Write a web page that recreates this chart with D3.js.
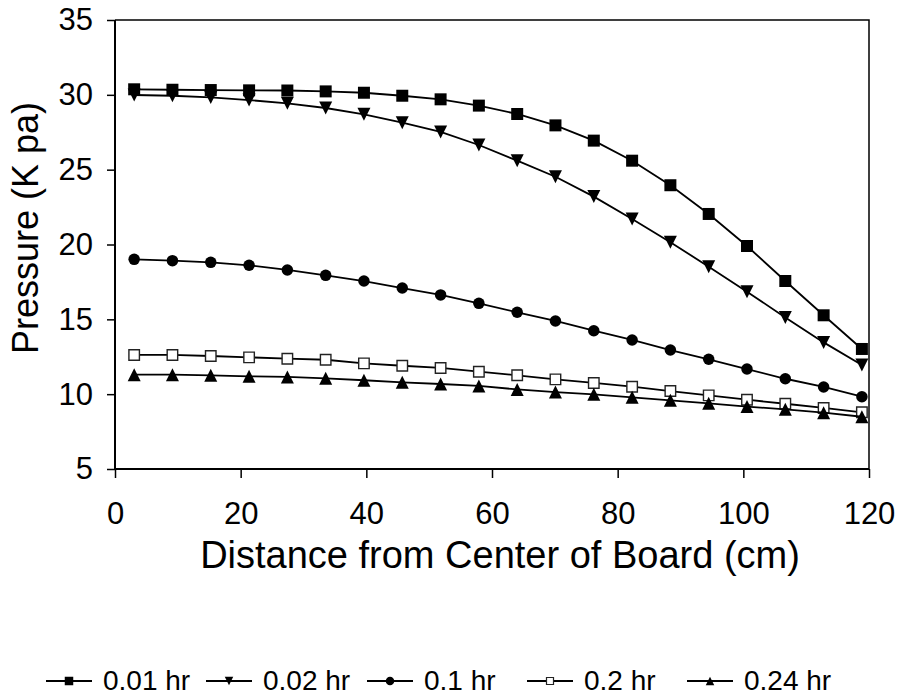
<!DOCTYPE html>
<html>
<head>
<meta charset="utf-8">
<script src="https://cdn.jsdelivr.net/npm/d3@7"></script>
<style>
  html, body { margin: 0; padding: 0; background: #fff; }
  svg { display: block; }
  text { font-family: Arial, "Liberation Sans", sans-serif; fill: #000; }
</style>
</head>
<body>
<svg id="chart" width="898" height="698"></svg>
<script>
// ---- data ----
const distances = [3.05, 9.14, 15.24, 21.34, 27.43, 33.53, 39.62, 45.72, 51.82, 57.91,
                   64.01, 70.10, 76.20, 82.30, 88.39, 94.49, 100.58, 106.68, 112.78, 118.87];
const p001 = [30.37, 30.34, 30.32, 30.30, 30.29, 30.23, 30.14, 29.94, 29.70, 29.28,
              28.72, 27.96, 26.94, 25.60, 23.96, 22.04, 19.90, 17.56, 15.27, 13.02];
const p002 = [29.99, 29.94, 29.83, 29.65, 29.43, 29.12, 28.70, 28.14, 27.52, 26.65,
              25.60, 24.53, 23.20, 21.70, 20.15, 18.52, 16.85, 15.13, 13.46, 11.95];
const p01  = [19.01, 18.92, 18.81, 18.61, 18.30, 17.94, 17.56, 17.09, 16.63, 16.07,
              15.47, 14.89, 14.24, 13.62, 12.95, 12.33, 11.68, 11.03, 10.48, 9.83];
const p02  = [12.62, 12.62, 12.55, 12.46, 12.37, 12.30, 12.06, 11.90, 11.75, 11.50,
              11.26, 10.99, 10.75, 10.50, 10.21, 9.92, 9.63, 9.36, 9.08, 8.79];
const p024 = [11.30, 11.30, 11.26, 11.19, 11.15, 11.06, 10.93, 10.79, 10.68, 10.55,
              10.32, 10.14, 9.99, 9.79, 9.59, 9.39, 9.17, 8.99, 8.76, 8.49];
const seriesNames = ["0.01 hr", "0.02 hr", "0.1 hr", "0.2 hr", "0.24 hr"];
const seriesMarkers = ["square", "triangleDown", "circle", "openSquare", "triangleUp"];
const xTicks = [0, 20, 40, 60, 80, 100, 120];
const yTicks = [5, 10, 15, 20, 25, 30, 35];
const xLabel = "Distance from Center of Board (cm)";
const yLabel = "Pressure (K pa)";

const seriesValues = [p001, p002, p01, p02, p024];

// ---- layout ----
const svg = d3.select("#chart");
const L = 115, R = 869, T = 20, B = 469;
const x = d3.scaleLinear().domain([0, 120]).range([L, R]);
const y = d3.scaleLinear().domain([5, 35]).range([B, T]);

function markerPath(type, s) {
  const h = s / 2;
  switch (type) {
    case "square":
    case "openSquare":
      return `M${-h},${-h}H${h}V${h}H${-h}Z`;
    case "triangleDown":
      return `M${-h},${-h}H${h}L0,${h}Z`;
    case "triangleUp":
      return `M${-h},${h}H${h}L0,${-h}Z`;
    case "circle":
      return `M${h},0A${h},${h} 0 1,1 ${-h},0A${h},${h} 0 1,1 ${h},0Z`;
  }
}
function markerSize(type) {
  if (type === "openSquare") return 10.5;
  if (type === "circle") return 11.5;
  if (type === "triangleUp" || type === "triangleDown") return 13;
  return 12;
}

// frame (top and right)
svg.append("path")
  .attr("d", `M${L},${T}H${R}V${B}`)
  .attr("fill", "none").attr("stroke", "#000").attr("stroke-width", 1.5);

// axes
const yAxis = d3.axisLeft(y).tickValues(yTicks).tickSize(8).tickPadding(14).tickFormat(d3.format("d"));
const gy = svg.append("g").attr("transform", `translate(${L},0)`).call(yAxis);
const xAxis = d3.axisBottom(x).tickValues(xTicks).tickSize(9).tickPadding(24).tickFormat(d3.format("d"));
const gx = svg.append("g").attr("transform", `translate(0,${B})`).call(xAxis);
[gy, gx].forEach(g => {
  g.select(".domain").attr("stroke", "#000").attr("stroke-width", 2);
  g.selectAll(".tick line").attr("stroke", "#000").attr("stroke-width", 1.5);
  g.selectAll(".tick text")
    .attr("font-family", "Arial, 'Liberation Sans', sans-serif")
    .attr("font-size", 31).attr("fill", "#000");
});
gx.select(".domain").attr("d", `M${L},0H${R}`);
gy.select(".domain").attr("d", `M0,${B}V${T}`);

// axis titles
svg.append("text")
  .attr("x", 500).attr("y", 568)
  .attr("text-anchor", "middle")
  .attr("font-size", 38)
  .text(xLabel);
svg.append("text")
  .attr("transform", `translate(38,228) rotate(-90)`)
  .attr("text-anchor", "middle")
  .attr("font-size", 36)
  .text(yLabel);

// series
const line = d3.line().x((d, i) => x(distances[i])).y(d => y(d));
seriesValues.forEach((vals, si) => {
  const g = svg.append("g");
  g.append("path")
    .attr("d", line(vals))
    .attr("fill", "none").attr("stroke", "#000").attr("stroke-width", 1.8);
  const type = seriesMarkers[si];
  g.selectAll("path.m").data(vals).enter().append("path")
    .attr("class", "m")
    .attr("transform", (d, i) => `translate(${x(distances[i])},${y(d)})`)
    .attr("d", markerPath(type, markerSize(type)))
    .attr("fill", type === "openSquare" ? "#fff" : "#000")
    .attr("stroke", type === "openSquare" ? "#222" : "none")
    .attr("stroke-width", 1.4);
});

// legend
const legendX = [46, 206, 367, 527, 687];
const legendY = 681;
seriesNames.forEach((name, i) => {
  const g = svg.append("g").attr("transform", `translate(${legendX[i]},${legendY})`);
  g.append("line").attr("x1", 0).attr("x2", 46).attr("y1", 0).attr("y2", 0)
    .attr("stroke", "#000").attr("stroke-width", 1.8);
  const type = seriesMarkers[i];
  g.append("path")
    .attr("transform", "translate(23,0)")
    .attr("d", markerPath(type, type === "openSquare" ? 7 : 8.5))
    .attr("fill", type === "openSquare" ? "#fff" : "#000")
    .attr("stroke", type === "openSquare" ? "#222" : "none")
    .attr("stroke-width", 1.2);
  g.append("text")
    .attr("x", 57).attr("y", 9)
    .attr("font-size", 28)
    .text(name);
});
</script>
</body>
</html>
